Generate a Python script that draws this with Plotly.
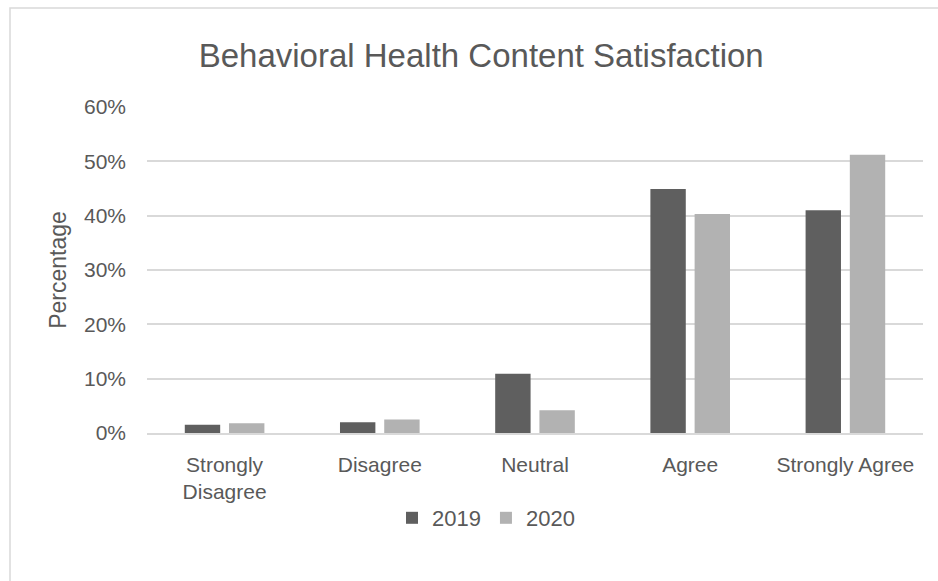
import plotly.graph_objects as go

# Survey responses: share of respondents per answer, by year
categories = ["Strongly<br>Disagree", "Disagree", "Neutral", "Agree", "Strongly Agree"]
values_2019 = [0.015, 0.020, 0.109, 0.449, 0.410]
values_2020 = [0.018, 0.025, 0.042, 0.403, 0.512]
series_names = ["2019", "2020"]
tick_values = [0, 0.1, 0.2, 0.3, 0.4, 0.5, 0.6]

TEXT = "#595959"
GRID = "#d9d9d9"
FONT = "Liberation Sans, Arial, sans-serif"

fig = go.Figure()
fig.add_trace(go.Bar(x=categories, y=values_2019, name=series_names[0],
                     marker=dict(color="#5f5f5f", line=dict(width=0))))
fig.add_trace(go.Bar(x=categories, y=values_2020, name=series_names[1],
                     marker=dict(color="#b2b2b2", line=dict(width=0))))

W, H = 938, 581
ML, MR, MT, MB = 147, 15, 107, 148
pw, ph = W - ML - MR, H - MT - MB

fig.update_layout(
    width=W, height=H,
    margin=dict(l=ML, r=MR, t=MT, b=MB, pad=0),
    paper_bgcolor="white", plot_bgcolor="white",
    font=dict(family=FONT, color=TEXT, size=21),
    title=dict(text="Behavioral Health Content Satisfaction",
               font=dict(family=FONT, size=33, color=TEXT),
               x=0.513, xanchor="center", y=1 - 55 / H, yanchor="middle"),
    barmode="group", bargap=0.43, bargroupgap=0.2,
    legend=dict(orientation="h", x=(486 - ML) / pw, xanchor="center",
                y=-(518 - (MT + ph)) / ph, yanchor="middle",
                font=dict(size=22, color=TEXT), itemwidth=30,
                bgcolor="rgba(0,0,0,0)"),
    showlegend=True,
)

fig.update_yaxes(
    range=[0, 0.6], tickvals=tick_values, tickformat=".0%",
    showgrid=True, gridcolor=GRID, gridwidth=1.5,
    zeroline=False, showline=False, ticks="",
    ticklabelstandoff=20,
    tickfont=dict(size=21, color=TEXT),
    title=dict(text="Percentage", font=dict(size=23, color=TEXT), standoff=10),
)
fig.update_xaxes(
    showline=True, linecolor=GRID, linewidth=1.5,
    showgrid=False, ticks="", ticklabelstandoff=12,
    tickfont=dict(size=21, color=TEXT),
)

# Chart-area frame (top and left edges visible inside the canvas)
fig.add_shape(type="rect", xref="paper", yref="paper",
              x0=(10 - ML) / pw, x1=2, y0=-2, y1=(MT + ph - 8) / ph,
              line=dict(color=GRID, width=1.5), fillcolor="rgba(0,0,0,0)",
              layer="below")

fig.write_html("out.html")
